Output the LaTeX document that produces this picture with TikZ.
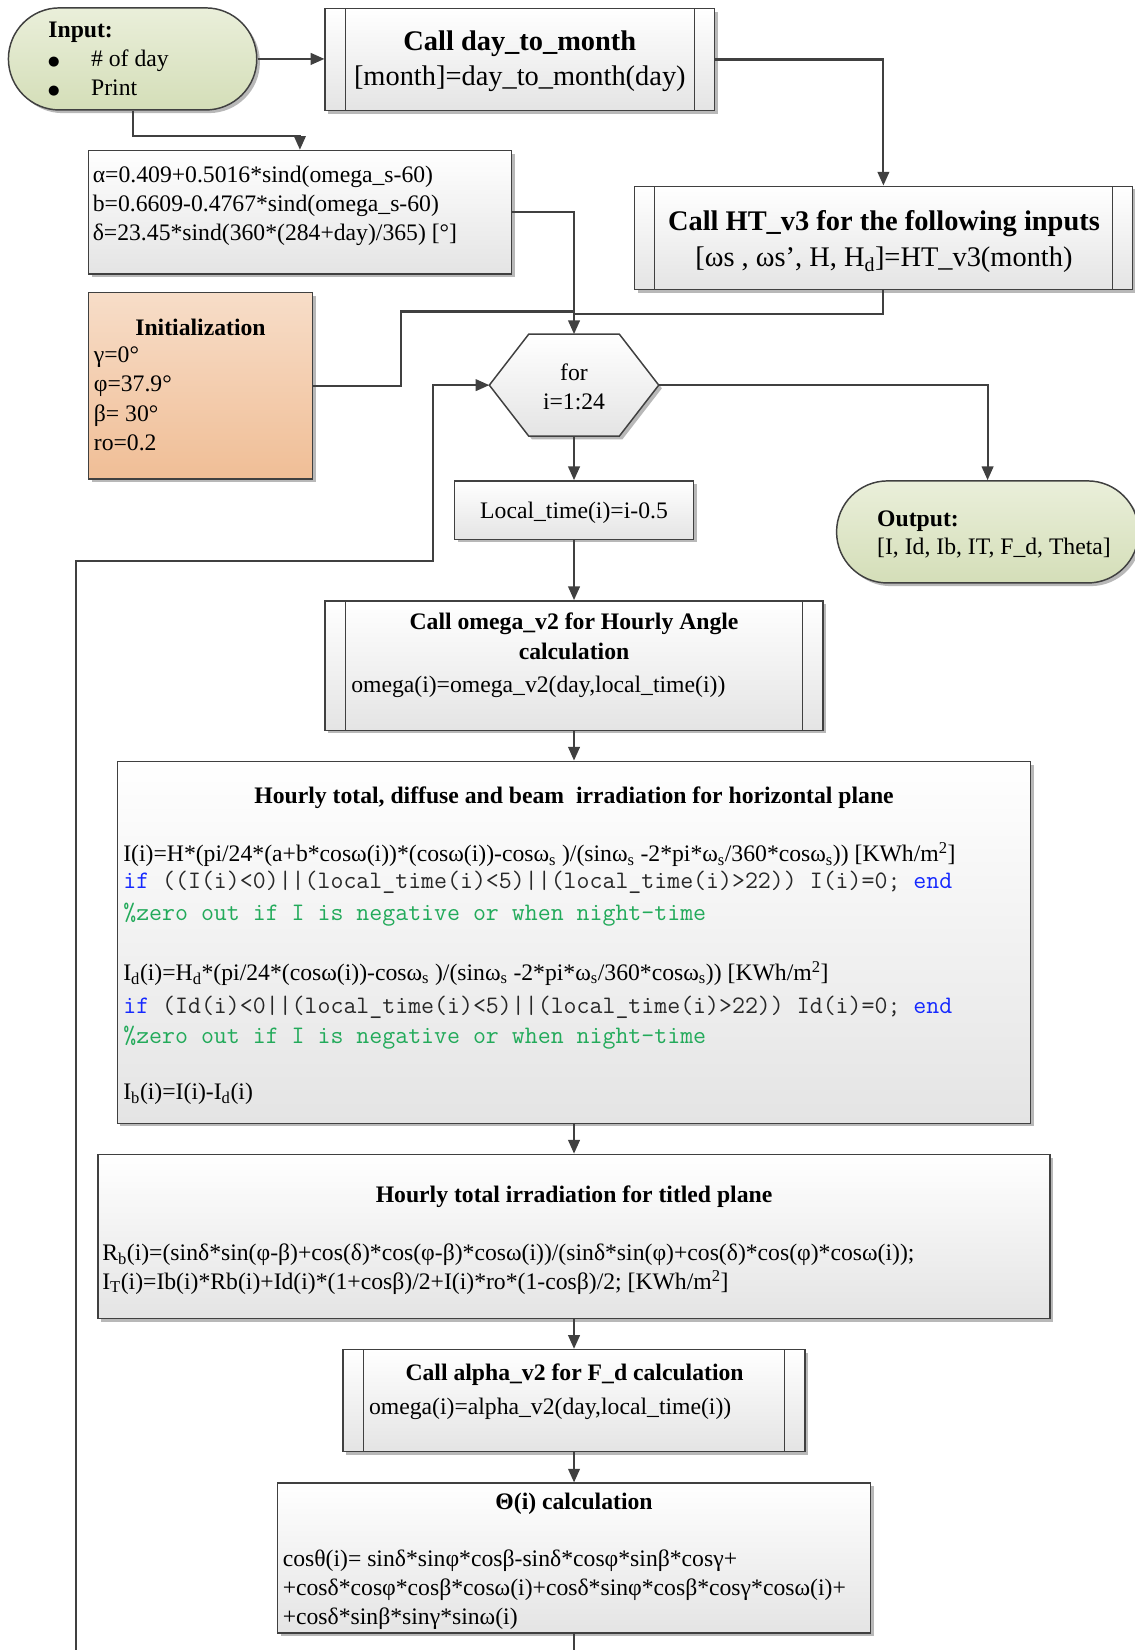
\documentclass[tikz,border=0pt]{standalone}
\usepackage{fontspec}
\setmainfont{Liberation Serif}
\newfontfamily\dotfont{DejaVu Sans}
\usetikzlibrary{arrows.meta,shadows}

\definecolor{edge}{RGB}{64,64,64}
\definecolor{boxgray}{RGB}{228,228,228}
\definecolor{termtop}{RGB}{234,239,218}
\definecolor{termbot}{RGB}{212,222,184}
\definecolor{inittop}{RGB}{247,221,200}
\definecolor{initbot}{RGB}{240,190,150}
\definecolor{kwblue}{RGB}{20,40,255}
\definecolor{cmtgreen}{RGB}{34,170,90}
\definecolor{codegray}{RGB}{40,40,40}

\begin{document}
\begin{tikzpicture}[x=1pt,y=-1pt,
  shadowed/.style={drop shadow={shadow xshift=3pt,shadow yshift=-3pt,fill=black,opacity=.28}},
  procbox/.style={shadowed,draw=edge,line width=1.4pt,top color=white,bottom color=boxgray,inner sep=0pt},
  subbox/.style={procbox,path picture={
      \draw[edge,line width=1.2pt]
        ([xshift=#1]path picture bounding box.north west) -- ([xshift=#1]path picture bounding box.south west)
        ([xshift=-#1]path picture bounding box.north east) -- ([xshift=-#1]path picture bounding box.south east);}},
  termbox/.style={shadowed,draw=edge,line width=1.4pt,top color=termtop,bottom color=termbot,inner sep=0pt,rounded corners=48.5pt},
  initbox/.style={shadowed,draw=edge,line width=1.4pt,top color=inittop,bottom color=initbot,inner sep=0pt},
  hexbody/.style={shadowed,draw=edge,line width=1.4pt,top color=white,bottom color=boxgray},
  tx/.style={inner sep=0pt,font=\fontsize{22.5}{27.7}\selectfont},
  txl/.style={inner sep=0pt,font=\fontsize{27}{33}\selectfont},
  tm/.style={inner sep=0pt,text=codegray,font=\fontsize{23.9}{26}\selectfont\ttfamily},
  bul/.style={inner sep=0pt,font=\fontsize{12.5}{14}\dotfont},
  flow/.style={draw=edge,line width=2pt},
  arr/.style={flow,-{Triangle[length=13pt,width=11pt]}}
]
\useasboundingbox (0,0) rectangle (1078,1568);

% ---------- boxes ----------
\node[termbox,minimum width=236pt,minimum height=97pt] (input) at (126,56) {};
\node[subbox=19pt,minimum width=370pt,minimum height=97pt] (d2m) at (494,56.5) {};
\node[subbox=19pt,minimum width=473pt,minimum height=98pt] (ht) at (839.5,226) {};
\node[procbox,minimum width=402pt,minimum height=117.5pt] (coef) at (285,201.75) {};
\node[initbox,minimum width=213pt,minimum height=177pt] (init) at (190.5,366.5) {};
\node[inner sep=0pt,outer sep=0pt,minimum width=161pt,minimum height=97pt] (for) at (545.5,366) {};
\draw[hexbody] (for.west) -- ([xshift=37.5pt]for.north west) -- ([xshift=-37.5pt]for.north east)
  -- (for.east) -- ([xshift=-37.5pt]for.south east) -- ([xshift=37.5pt]for.south west) -- cycle;
\node[termbox,minimum width=287pt,minimum height=97pt] (out) at (938.5,505.5) {};
\node[procbox,minimum width=227pt,minimum height=55.5pt] (lt) at (545.5,484.75) {};
\node[subbox=19.5pt,minimum width=473.5pt,minimum height=123pt] (omega) at (545.5,632.5) {};
\node[procbox,minimum width=868pt,minimum height=344pt] (hourly) at (545.5,895.5) {};
\node[procbox,minimum width=904.5pt,minimum height=156pt] (tilt) at (545.5,1175) {};
\node[subbox=19.5pt,minimum width=439pt,minimum height=97pt] (av2) at (545.5,1331) {};
\node[procbox,minimum width=563.5pt,minimum height=142.5pt] (theta) at (545.5,1480.75) {};

% ---------- connectors ----------
\coordinate (j1) at (285,129.5);
\coordinate (j2) at (545.5,298.5);
\coordinate (j3) at (381,296);
\coordinate (j4) at (545.5,296);
\coordinate (l1) at (72,533);
\coordinate (l2) at (411.5,533);
\coordinate (lb) at (72,1590);
\coordinate (tb) at (545.5,1590);

\draw[arr] (input.east) -- (input.east -| d2m.west);
\draw[arr] (d2m.east) -| (ht.north);
\draw[arr] (input.south) |- (j1) -- (coef.north);
\draw[arr] (coef.east) -| (for.north);
\draw[flow] (ht.south) |- (j2);
\draw[flow] (init.east) -| (j3) -- (j4);
\draw[arr] (for.east) -| (out.north);
\draw[arr] (for.south) -- (lt.north);
\draw[arr] (lt.south) -- (omega.north);
\draw[arr] (omega.south) -- (hourly.north);
\draw[arr] (hourly.south) -- (tilt.north);
\draw[arr] (tilt.south) -- (av2.north);
\draw[arr] (av2.south) -- (theta.north);
\draw[flow] (theta.south) -- (tb);
\draw[arr] (lb) -- (l1) -- (l2) |- (for.west);

% ---------- texts ----------
\node[tx,anchor=base west] (inhead) at (45.8,35.5) {\bfseries Input:};
\node[bul,anchor=base west] (inb1) at (45.5,61.9) {●};
\node[bul,anchor=base west] (inb2) at (45.5,89.4) {●};
\node[tx,anchor=base west] (in1) at (86.4,63.4) {\# of day};
\node[tx,anchor=base west] (in2) at (86.4,91) {Print};

\node[txl,anchor=base] (d2mhead) at (494,48.2) {\bfseries Call day\_to\_month};
\node[txl,anchor=base] (d2mbody) at (494,81) {[month]=day\_to\_month(day)};

\node[txl,anchor=base] (hthead) at (840,219.3) {\bfseries Call HT\_v3 for the following inputs};
\node[txl,anchor=base] (htbody) at (840,253.5) {[ωs , ωs’, H, H\textsubscript{d}]=HT\_v3(month)};

\node[tx,anchor=base west] (c1) at (88,173.5) {α=0.409+0.5016*sind(omega\_s-60)};
\node[tx,anchor=base west] (c2) at (88,201.2) {b=0.6609-0.4767*sind(omega\_s-60)};
\node[tx,anchor=base west] (c3) at (88,228.8) {δ=23.45*sind(360*(284+day)/365) [°]};

\node[tx,anchor=base] (inithead) at (190.5,318.4) {\bfseries Initialization};
\node[tx,anchor=base west] (i1) at (89,344.7) {γ=0°};
\node[tx,anchor=base west] (i2) at (89,372.3) {φ=37.9°};
\node[tx,anchor=base west] (i3) at (89,400.8) {β= 30°};
\node[tx,anchor=base west] (i4) at (89,427.8) {ro=0.2};

\node[tx,anchor=base] (for1) at (545.5,361.5) {for};
\node[tx,anchor=base] (for2) at (545.5,389) {i=1:24};

\node[tx,anchor=base west] (outhead) at (833.4,500) {\bfseries Output:};
\node[tx,anchor=base west] (outbody) at (833.4,527) {[I, Id, Ib, IT, F\_d, Theta]};

\node[tx,anchor=base] (lttext) at (545.5,492.5) {Local\_time(i)=i-0.5};

\node[tx,anchor=base] (omhead1) at (545.5,598.5) {\bfseries Call omega\_v2 for Hourly Angle};
\node[tx,anchor=base] (omhead2) at (545.5,626.5) {\bfseries calculation};
\node[tx,anchor=base west] (ombody) at (333.6,658.5) {omega(i)=omega\_v2(day,local\_time(i))};

\node[tx,anchor=base] (hhead) at (545.5,763.5) {\bfseries Hourly total, diffuse and beam~ irradiation for horizontal plane};
\node[tx,anchor=base west] (h1) at (117,819) {I(i)=H*(pi/24*(a+b*cosω(i))*(cosω(i))-cosω\textsubscript{s} )/(sinω\textsubscript{s} -2*pi*ω\textsubscript{s}/360*cosω\textsubscript{s})) [KWh/m\textsuperscript{2}]};
\node[tm,anchor=base west] (h2) at (117,844.5) {\textcolor{kwblue}{if} ((I(i)<0)||(local\_time(i)<5)||(local\_time(i)>22)) I(i)=0; \textcolor{kwblue}{end}};
\node[tm,anchor=base west,text=cmtgreen] (h3) at (117,875) {\%zero out if I is negative or when night-time};
\node[tx,anchor=base west] (h4) at (117,931.6) {I\textsubscript{d}(i)=H\textsubscript{d}*(pi/24*(cosω(i))-cosω\textsubscript{s} )/(sinω\textsubscript{s} -2*pi*ω\textsubscript{s}/360*cosω\textsubscript{s})) [KWh/m\textsuperscript{2}]};
\node[tm,anchor=base west] (h5) at (117,963.5) {\textcolor{kwblue}{if} (Id(i)<0||(local\_time(i)<5)||(local\_time(i)>22)) Id(i)=0; \textcolor{kwblue}{end}};
\node[tm,anchor=base west,text=cmtgreen] (h6) at (117,991.5) {\%zero out if I is negative or when night-time};
\node[tx,anchor=base west] (h7) at (117,1045) {I\textsubscript{b}(i)=I(i)-I\textsubscript{d}(i)};

\node[tx,anchor=base] (thead) at (545.5,1142.3) {\bfseries Hourly total irradiation for titled plane};
\node[tx,anchor=base west] (t1) at (97,1198) {R\textsubscript{b}(i)=(sinδ*sin(φ-β)+cos(δ)*cos(φ-β)*cosω(i))/(sinδ*sin(φ)+cos(δ)*cos(φ)*cosω(i));};
\node[tx,anchor=base west] (t2) at (97,1225.5) {I\textsubscript{T}(i)=Ib(i)*Rb(i)+Id(i)*(1+cosβ)/2+I(i)*ro*(1-cosβ)/2; [KWh/m\textsuperscript{2}]};

\node[tx,anchor=base] (avhead) at (546,1311.8) {\bfseries Call alpha\_v2 for F\_d calculation};
\node[tx,anchor=base west] (avbody) at (350.5,1344.5) {omega(i)=alpha\_v2(day,local\_time(i))};

\node[tx,anchor=base] (thhead) at (545.5,1434) {\bfseries Θ(i) calculation};
\node[tx,anchor=base west] (th1) at (268.5,1489) {cosθ(i)= sinδ*sinφ*cosβ-sinδ*cosφ*sinβ*cosγ+};
\node[tx,anchor=base west] (th2) at (268.5,1516.5) {+cosδ*cosφ*cosβ*cosω(i)+cosδ*sinφ*cosβ*cosγ*cosω(i)+};
\node[tx,anchor=base west] (th3) at (268.5,1544) {+cosδ*sinβ*sinγ*sinω(i)};
\end{tikzpicture}
\end{document}
